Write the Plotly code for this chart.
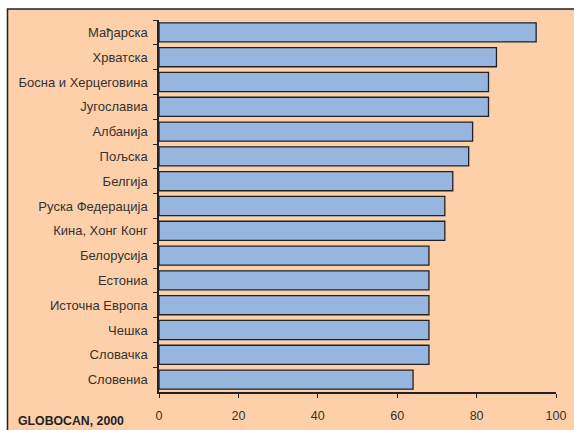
import plotly.graph_objects as go

countries = ["Мађарска", "Хрватска", "Босна и Херцеговина", "Југославиа", "Албанија",
             "Пољска", "Белгија", "Руска Федерација", "Кина, Хонг Конг", "Белорусија",
             "Естониа", "Источна Европа", "Чешка", "Словачка", "Словениа"]
values = [95, 85, 83, 83, 79, 78, 74, 72, 72, 68, 68, 68, 68, 68, 64]
x_ticks = [0, 20, 40, 60, 80, 100]
source = "GLOBOCAN, 2000"

W, H = 574, 430
ml, mr, mt, mb = 159, 18, 20, 38
pw, ph = W - ml - mr, H - mt - mb

def px_x(p):
    return (p - ml) / pw

def px_y(p):
    return (H - mb - p) / ph

fig = go.Figure(go.Bar(
    x=values, y=countries, orientation="h",
    marker=dict(color="#96B6E0", line=dict(color="#222222", width=1.3)),
    width=0.77,
))

fig.update_layout(
    width=W, height=H,
    margin=dict(l=ml, r=mr, t=mt, b=mb),
    paper_bgcolor="white",
    plot_bgcolor="rgba(0,0,0,0)",
    showlegend=False,
    font=dict(family="Liberation Sans, Arial, sans-serif", size=13, color="#333333"),
    shapes=[dict(type="rect", xref="paper", yref="paper",
                 x0=px_x(7.5), x1=px_x(600), y0=px_y(460), y1=px_y(9),
                 fillcolor="#FDD0A9", line=dict(color="#222222", width=1.5),
                 layer="below")],
    annotations=[dict(text="<b>" + source + "</b>", xref="paper", yref="paper",
                      x=px_x(16), y=px_y(421), xanchor="left", yanchor="middle",
                      showarrow=False, font=dict(size=12.3, color="#222222"))],
)
fig.update_xaxes(range=[0, 100], tickvals=x_ticks, ticks="outside", ticklen=4,
                 tickcolor="#222222", showline=True, linecolor="#222222", linewidth=1.5,
                 showgrid=False, zeroline=False, ticklabelstandoff=7, automargin=False,
                 tickfont=dict(size=12.5, color="#333333"))
fig.update_yaxes(categoryorder="array", categoryarray=countries, autorange="reversed",
                 ticks="outside", tickson="boundaries", ticklen=4, tickcolor="#222222",
                 showline=True, linecolor="#222222", linewidth=1.5, showgrid=False,
                 ticklabelstandoff=7, automargin=False,
                 tickfont=dict(size=13, color="#333333"))

fig.write_html("out.html")
